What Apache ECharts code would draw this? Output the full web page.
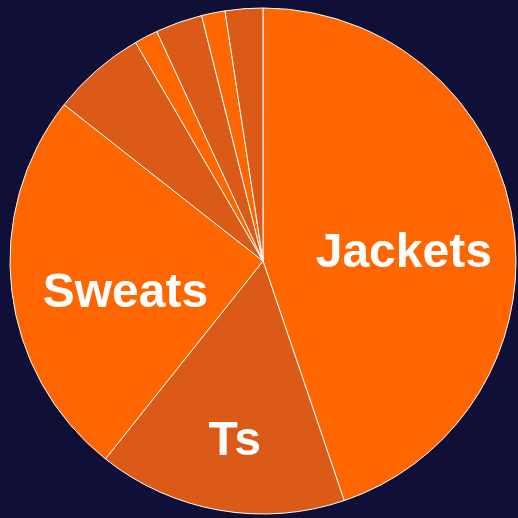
<!DOCTYPE html>
<html>
<head>
<meta charset="utf-8">
<style>
  html, body { margin: 0; padding: 0; background: #100f37; }
  #chart { width: 518px; height: 518px; }
</style>
<script src="https://cdn.jsdelivr.net/npm/echarts@6/dist/echarts.min.js"></script>
</head>
<body>
<div id="chart"></div>
<script>
// Product mix by category (percent share)
const categories = ['Jackets', 'Ts', 'Sweats', 'Hoodies', 'Caps', 'Socks', 'Scarves', 'Bags'];
const shares = [44.8, 15.9, 24.9, 6.0, 1.5, 3.0, 1.5, 2.4];
// Only the largest categories carry a label
const labelled = ['Jackets', 'Ts', 'Sweats'];

const ORANGE = '#ff6600';
const BURNT = '#dc5a17';

// Fine-tuning of label placement relative to the slice's inner anchor
const labelShift = {
  Jackets: [13, 14],
  Ts: [-6, 53],
  Sweats: [-9, 18]
};

const data = categories.map((name, i) => ({
  name,
  value: shares[i],
  itemStyle: { color: i % 2 === 0 ? ORANGE : BURNT },
  label: { show: labelled.includes(name) }
}));

const chart = echarts.init(document.getElementById('chart'), null, { renderer: 'canvas' });
chart.setOption({
  backgroundColor: '#100f37',
  animation: false,
  series: [{
    type: 'pie',
    center: [263, 261],
    radius: 253,
    startAngle: 90,
    clockwise: true,
    avoidLabelOverlap: false,
    data,
    itemStyle: { borderColor: '#ffffff', borderWidth: 1 },
    label: {
      position: 'inside',
      formatter: '{b}',
      color: '#ffffff',
      fontFamily: '"Liberation Sans", Arial, sans-serif',
      fontWeight: 'bold',
      fontSize: 48
    },
    labelLine: { show: false },
    emphasis: { disabled: true },
    labelLayout: function (params) {
      const s = labelShift[categories[params.dataIndex]];
      return s ? { dx: s[0], dy: s[1] } : {};
    }
  }]
});
</script>
</body>
</html>
